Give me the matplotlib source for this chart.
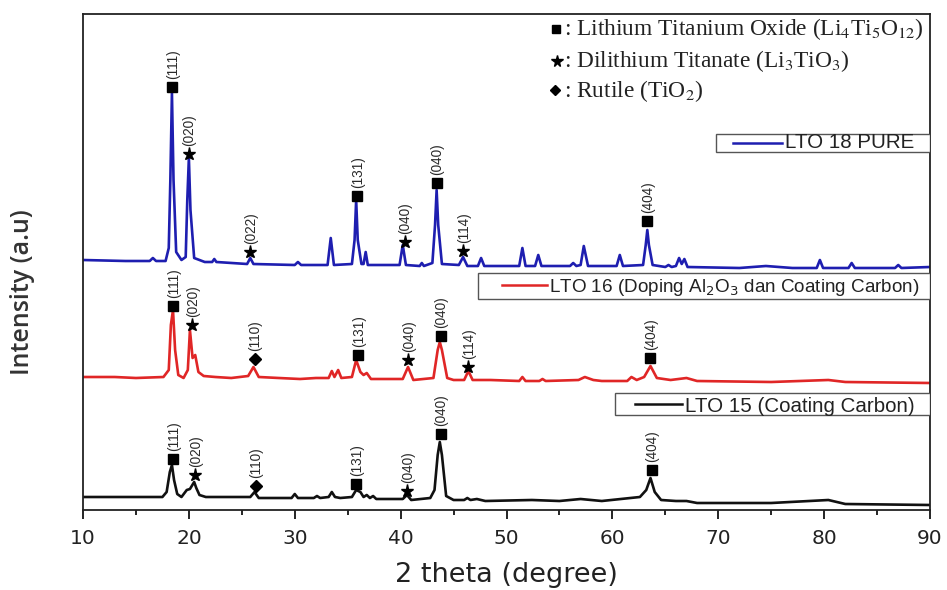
import matplotlib
matplotlib.use("Agg")
import matplotlib.pyplot as plt
from matplotlib.patches import Rectangle
from matplotlib.lines import Line2D

# ---------------- data ----------------
# intensities are in arbitrary units, already offset (stacked) as in the figure
two_theta_lto18 = [10.0, 14.0, 16.3, 16.6, 16.9, 17.8, 18.1, 18.25, 18.4, 18.55, 18.8, 19.3,
                   19.7, 19.85, 20.0, 20.15, 20.5, 21.5, 22.2, 22.4, 22.6, 25.5, 25.8, 26.1,
                   30.0, 30.3, 30.6, 33.1, 33.4, 33.7, 35.4, 35.65, 35.8, 35.95, 36.3, 36.5,
                   36.7, 36.9, 39.9, 40.2, 40.5, 41.8, 42.0, 42.2, 43.0, 43.25, 43.4, 43.55,
                   43.9, 45.5, 45.9, 46.3, 47.3, 47.6, 47.9, 51.2, 51.5, 51.8, 52.7, 53.0,
                   53.3, 56.0, 56.3, 56.6, 57.0, 57.3, 57.7, 60.4, 60.7, 61.0, 62.9, 63.15,
                   63.3, 63.45, 63.8, 65.0, 65.3, 65.6, 66.0, 66.3, 66.55, 66.8, 67.1, 72.0,
                   74.5, 77.0, 79.3, 79.6, 79.9, 82.3, 82.6, 82.9, 86.7, 87.0, 87.3, 90.0]
intensity_lto18 = [250, 249, 249, 252, 249, 249, 262, 330, 417, 330, 258, 250,
                   253, 310, 352, 300, 252, 248, 248, 251, 248, 246, 252, 246,
                   245, 248, 245, 245, 272, 245, 246, 270, 310, 270, 246, 246,
                   258, 245, 245, 265, 245, 244, 247, 244, 247, 285, 320, 285,
                   246, 245, 253, 244, 244, 252, 244, 244, 262, 244, 244, 255,
                   244, 244, 247, 244, 245, 264, 244, 244, 255, 244, 245, 265,
                   280, 265, 245, 243, 245, 243, 244, 252, 246, 251, 243, 242,
                   244, 242, 242, 250, 242, 242, 247, 242, 242, 245, 242, 243]

two_theta_lto16 = [10.0, 13.0, 15.0, 17.6, 18.1, 18.3, 18.5, 18.7, 19.0, 19.5, 19.9, 20.1,
                   20.35, 20.6, 20.9, 21.4, 22.5, 24.0, 25.6, 26.1, 26.6, 28.5, 30.5, 32.0,
                   33.2, 33.5, 33.75, 34.1, 34.4, 35.4, 35.8, 36.2, 36.5, 36.8, 37.2, 38.5,
                   40.2, 40.7, 41.2, 43.1, 43.5, 43.7, 43.9, 44.4, 45.0, 46.0, 46.4, 46.8,
                   48.5, 51.2, 51.5, 51.8, 53.1, 53.4, 53.7, 56.8, 57.4, 58.2, 59.0, 61.4,
                   61.8, 62.3, 63.0, 63.6, 64.2, 65.5, 67.0, 68.0, 75.0, 80.4, 82.0, 90.0]
intensity_lto16 = [133, 133, 132, 133, 140, 185, 200, 160, 135, 132, 140, 180,
                   152, 155, 138, 134, 133, 132, 134, 143, 133, 132, 131, 132,
                   132, 139, 133, 140, 132, 133, 150, 138, 135, 137, 131, 131,
                   131, 143, 130, 132, 160, 168, 160, 132, 130, 130, 139, 130,
                   130, 129, 133, 129, 129, 131, 129, 130, 133, 130, 129, 129,
                   133, 130, 133, 144, 132, 130, 132, 129, 128, 130, 128, 127]

two_theta_lto15 = [10.0, 14.0, 17.5, 17.9, 18.2, 18.4, 18.6, 18.9, 19.3, 19.8, 20.1, 20.5,
                   20.7, 21.0, 21.6, 25.8, 26.2, 26.6, 29.7, 30.0, 30.3, 31.8, 32.1, 32.4,
                   33.2, 33.5, 33.8, 34.3, 35.4, 35.8, 36.2, 36.5, 36.8, 37.1, 37.4, 37.7,
                   40.2, 40.6, 41.0, 42.8, 43.2, 43.5, 43.7, 43.9, 44.3, 45.0, 46.0, 46.3,
                   46.6, 47.2, 48.0, 52.4, 55.0, 57.0, 59.0, 62.6, 63.2, 63.6, 64.0, 64.6,
                   66.0, 67.0, 68.0, 75.0, 80.4, 82.0, 90.0]
intensity_lto15 = [13, 13, 13, 18, 38, 45, 30, 16, 13, 20, 21, 28,
                   22, 15, 13, 13, 18, 12, 12, 16, 12, 12, 14, 12,
                   13, 18, 13, 12, 13, 20, 18, 13, 15, 12, 14, 11,
                   11, 15, 10, 12, 20, 55, 68, 55, 14, 10, 10, 12,
                   10, 11, 9, 10, 9, 11, 9, 13, 20, 32, 18, 10,
                   9, 9, 7, 7, 10, 6, 5]

series_labels = ["LTO 18 PURE",
                 "LTO 16 (Doping Al$_2$O$_3$ dan Coating Carbon)",
                 "LTO 15 (Coating Carbon)"]
series_colors = ["#1e1eb0", "#e02626", "#111111"]

# peak identification markers: position, marker height, phase, Miller index
peak_pos_lto18 = [18.4, 20.0, 25.8, 35.9, 40.4, 43.4, 45.9, 63.3]
peak_mark_lto18 = [423, 356, 258, 314, 268, 327, 259, 289]
peak_phase_lto18 = ["LTO", "LTiO", "LTiO", "LTO", "LTiO", "LTO", "LTiO", "LTO"]
peak_hkl_lto18 = ["(111)", "(020)", "(022)", "(131)", "(040)", "(040)", "(114)", "(404)"]

peak_pos_lto16 = [18.5, 20.3, 26.2, 36.0, 40.7, 43.8, 46.4, 63.6]
peak_mark_lto16 = [204, 185, 151, 155, 150, 174, 143, 152]
peak_phase_lto16 = ["LTO", "LTiO", "TiO2", "LTO", "LTiO", "LTO", "LTiO", "LTO"]
peak_hkl_lto16 = ["(111)", "(020)", "(110)", "(131)", "(040)", "(040)", "(114)", "(404)"]

peak_pos_lto15 = [18.5, 20.6, 26.3, 35.8, 40.6, 43.8, 63.7]
peak_mark_lto15 = [51, 35, 24, 26, 19, 76, 40]
peak_phase_lto15 = ["LTO", "LTiO", "TiO2", "LTO", "LTiO", "LTO", "LTO"]
peak_hkl_lto15 = ["(111)", "(020)", "(110)", "(131)", "(040)", "(040)", "(404)"]

phase_keys = ["LTO", "LTiO", "TiO2"]
phase_names = [": Lithium Titanium Oxide (Li$_4$Ti$_5$O$_{12}$)",
               ": Dilithium Titanate (Li$_3$TiO$_3$)",
               ": Rutile (TiO$_2$)"]

x_ticks = [10, 20, 30, 40, 50, 60, 70, 80, 90]
x_minor_ticks = [15, 25, 35, 45, 55, 65, 75, 85]

# ---------------- styling ----------------
phase_marker = {"LTO": ("s", 6.5), "LTiO": ("*", 9.5), "TiO2": ("D", 6.0)}

fig = plt.figure(figsize=(9.47, 5.90), dpi=100)
ax = fig.add_axes([83 / 947, 80 / 590, 847 / 947, 496 / 590])

series = [(two_theta_lto18, intensity_lto18), (two_theta_lto16, intensity_lto16),
          (two_theta_lto15, intensity_lto15)]
lines = []
for (x, y), c, lab in zip(series, series_colors, series_labels):
    ln, = ax.plot(x, y, color=c, lw=1.9, solid_joinstyle="round", label=lab)
    lines.append(ln)

peaks = [(peak_pos_lto18, peak_mark_lto18, peak_phase_lto18, peak_hkl_lto18),
         (peak_pos_lto16, peak_mark_lto16, peak_phase_lto16, peak_hkl_lto16),
         (peak_pos_lto15, peak_mark_lto15, peak_phase_lto15, peak_hkl_lto15)]
for pos, mark, phase, hkl in peaks:
    for px, py, ph, h in zip(pos, mark, phase, hkl):
        m, ms = phase_marker[ph]
        ax.plot([px], [py], ls="none", marker=m, ms=ms, color="black")
        ax.annotate(h, (px, py), xytext=(0.5, 5.5), textcoords="offset points",
                    rotation=90, ha="center", va="bottom", fontsize=9.8,
                    family="Liberation Sans", color="#2a2a2a")

ax.set_xlim(10, 90)
ax.set_ylim(0, 496)
ax.set_yticks([])
ax.set_xticks(x_ticks)
ax.set_xticks(x_minor_ticks, minor=True)
ax.tick_params(axis="x", which="major", direction="out", length=6.5, width=1.2,
               pad=7, labelsize=14.5, labelcolor="#222222")
ax.tick_params(axis="x", which="minor", direction="out", length=3.6, width=1.2)
for sp in ax.spines.values():
    sp.set_linewidth(1.3)
    sp.set_color("#222222")

ax.set_xlabel("2 theta (degree)", fontsize=19.5, color="#222222")
ax.xaxis.set_label_coords(0.5, -0.105)
ax.set_ylabel("Intensity (a.u)", fontsize=18, family="Open Sans", weight="semibold",
              color="#333333", va="center")
ax.yaxis.set_label_coords(-0.072, 0.44)

# phase symbol key (top right)
key_sym_x = [0.5584, 0.5596, 0.5573]
key_sym_y = [0.9698, 0.9052, 0.8468]
key_txt_y = [0.9577, 0.8931, 0.8327]
for k, nm, sx, sy, ty in zip(phase_keys, phase_names, key_sym_x, key_sym_y, key_txt_y):
    m, ms = phase_marker[k]
    ax.plot([sx], [sy], ls="none", marker=m, ms=ms * 0.9, color="black",
            transform=ax.transAxes, clip_on=False)
    ax.text(0.5679, ty, nm, transform=ax.transAxes, fontsize=16.8,
            family="Liberation Serif", math_fontfamily="stix", ha="left",
            va="baseline", color="#222222")

# individual series legend boxes:
# box (x0, x1, y0, y1), line sample (x0, x1, y), text (x, baseline y), font size
boxes = [
    ((0.7473, 1.0, 0.7218, 0.7581), (0.7674, 0.8253, 0.7399), (0.8288, 0.7298), 14.8),
    ((0.4664, 1.0, 0.4254, 0.4778), (0.4947, 0.5478, 0.4536), (0.5502, 0.4395), 13.6),
    ((0.6281, 1.0, 0.1915, 0.2359), (0.6517, 0.7072, 0.2137), (0.7107, 0.1976), 14.8),
]
for (rect, lseg, tpos, fs), ln in zip(boxes, lines):
    bx0, bx1, by0, by1 = rect
    ax.add_patch(Rectangle((bx0, by0), bx1 - bx0, by1 - by0, transform=ax.transAxes,
                           facecolor="white", edgecolor="#555555", lw=1.0, zorder=5))
    ax.add_line(Line2D([lseg[0], lseg[1]], [lseg[2], lseg[2]], transform=ax.transAxes,
                       color=ln.get_color(), lw=1.8, zorder=6))
    ax.text(tpos[0], tpos[1], ln.get_label(), transform=ax.transAxes, fontsize=fs,
            family="Liberation Sans", math_fontfamily="dejavusans", ha="left",
            va="baseline", color="#222222", zorder=7)

fig.savefig("out.png", dpi=100)
